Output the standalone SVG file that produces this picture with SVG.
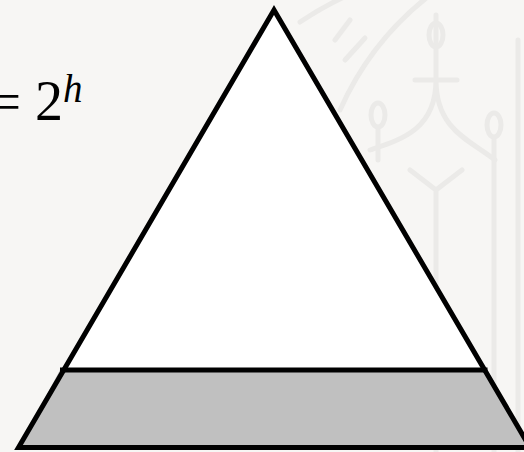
<svg xmlns="http://www.w3.org/2000/svg" width="524" height="452" viewBox="0 0 524 452">
  <style>
    .edge { fill: none; stroke: #000; stroke-width: 5; stroke-linejoin: miter; }
    .wm { fill: none; stroke: #ebeae8; stroke-width: 5; stroke-linecap: round; }
    .math { font-family: "Liberation Serif", "DejaVu Serif", serif; fill: #000; }
  </style>
  <rect width="524" height="452" fill="#f7f6f4"/>
  <g id="watermark">
    <path class="wm" d="M 300 22 A 330 330 0 0 1 360 -10"/>
    <path class="wm" d="M 340 110 A 300 300 0 0 1 430 -5"/>
    <path class="wm" d="M 335 40 L 350 20 M 345 60 L 365 38"/>
    <path class="wm" d="M 415 80 L 457 80 M 436 15 L 436 80 M 436 80 C 436 130 400 140 370 150 M 436 80 C 436 130 470 140 495 160"/>
    <ellipse class="wm" cx="436" cy="35" rx="7" ry="12"/>
    <ellipse class="wm" cx="378" cy="115" rx="7" ry="12"/>
    <ellipse class="wm" cx="494" cy="125" rx="7" ry="12"/>
    <path class="wm" d="M 378 130 L 378 160 M 494 140 L 494 452 M 436 190 L 436 452 M 436 190 L 410 170 M 436 190 L 462 170 M 518 40 L 518 452"/>
  </g>
  <g id="triangle">
    <polygon points="274,10 18.5,447.5 530,447.5" fill="#ffffff"/>
    <polygon points="60,370 487.5,370 530,447.5 18.5,447.5" fill="#c0c0c0"/>
    <line class="edge" x1="60" y1="370" x2="487.5" y2="370"/>
    <polygon class="edge" points="274,10 18.5,447.5 530,447.5"/>
  </g>
  <g id="label">
    <text class="math" x="-10" y="120" font-size="55">=</text>
    <text class="math" x="35" y="120" font-size="56">2</text>
    <text class="math" x="63" y="102" font-size="39" font-style="italic">h</text>
  </g>
</svg>
